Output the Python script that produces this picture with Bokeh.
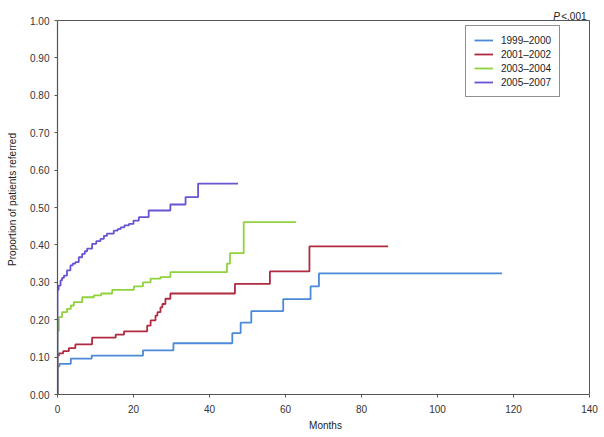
from bokeh.plotting import figure
from bokeh.models import Range1d, FixedTicker, PrintfTickFormatter, Legend, LegendItem
from bokeh.core.properties import value
from bokeh.embed import file_html
from bokeh.resources import INLINE

# ---- data ----
blue_t = [0, 0, 0.5, 3.5, 9, 22.5, 30.5, 46, 48.2, 51, 59.4, 66.6, 68.8, 117]
blue_v = [0, 0.075, 0.082, 0.096, 0.104, 0.118, 0.137, 0.164, 0.192, 0.223, 0.255, 0.289, 0.324, 0.324]

red_t = [0, 0, 0.4, 1.5, 3, 4.7, 9.1, 15.3, 17.5, 23.6, 24.5, 25.8, 26.3, 27.1, 27.6, 28.4, 29.7, 46.7, 55.9, 66.3, 87]
red_v = [0, 0.104, 0.11, 0.116, 0.124, 0.134, 0.152, 0.16, 0.169, 0.184, 0.198, 0.211, 0.22, 0.233, 0.242, 0.256, 0.27, 0.296, 0.329, 0.396, 0.396]

green_t = [0, 0, 0.35, 1.2, 2.5, 3.5, 4.3, 6.5, 9.6, 11.5, 14.4, 20.1, 22.5, 24.5, 27.1, 29.7, 44.6, 45.4, 49, 62.8]
green_v = [0, 0.17, 0.207, 0.22, 0.229, 0.238, 0.247, 0.26, 0.265, 0.27, 0.28, 0.289, 0.30, 0.31, 0.314, 0.327, 0.35, 0.378, 0.461, 0.461]

purple_t = [0, 0, 0.3, 0.8, 1.2, 1.7, 2.5, 3.4, 4.0, 4.7, 5.6, 6.5, 7.2, 7.8, 9.1, 10.2, 11.3, 12.2, 13, 14.8, 15.8, 16.6, 17.6, 18.8, 20, 21.4, 24, 29.7, 33.7, 37.0, 47.5]
purple_v = [0, 0.28, 0.291, 0.305, 0.312, 0.318, 0.332, 0.345, 0.35, 0.354, 0.367, 0.376, 0.383, 0.39, 0.403, 0.41, 0.416, 0.424, 0.43, 0.438, 0.442, 0.447, 0.452, 0.456, 0.465, 0.474, 0.492, 0.508, 0.528, 0.564, 0.564]

series_names = ["1999\u20132000", "2001\u20132002", "2003\u20132004", "2005\u20132007"]
series_colors = ["#4a8ad8", "#b02a40", "#8fd23c", "#6a52d2"]

x_ticks = [0, 20, 40, 60, 80, 100, 120, 140]
y_ticks = [0.0, 0.1, 0.2, 0.3, 0.4, 0.5, 0.6, 0.7, 0.8, 0.9, 1.0]
x_max, y_max = 140, 1.0
p_text = "<.001"

FONT = "Liberation Sans"
PX_X = 3.8    # pixels per month
PX_Y = 374.0  # pixels per unit proportion

p = figure(width=600, height=435, output_backend="svg", toolbar_location=None,
           x_range=Range1d(0, x_max + 4 / PX_X), y_range=Range1d(0, y_max + 16 / PX_Y),
           min_border_left=57, min_border_right=7, min_border_top=4, min_border_bottom=41)
p.xgrid.visible = False
p.ygrid.visible = False
p.outline_line_color = None
p.background_fill_color = "white"
p.border_fill_color = "white"

for ax in (p.xaxis[0], p.yaxis[0]):
    ax.axis_line_color = "#555555"
    ax.axis_line_width = 1.2
    ax.major_tick_line_color = "#555555"
    ax.major_tick_in = 0
    ax.major_tick_out = 3
    ax.minor_tick_line_color = None
    ax.major_label_text_font = FONT
    ax.major_label_text_font_size = "10px"
    ax.major_label_text_color = "#333333"
    ax.axis_label_text_font = FONT
    ax.axis_label_text_font_size = "10px"
    ax.axis_label_text_font_style = "normal"
    ax.axis_label_text_color = "#222222"

p.xaxis.bounds = (0, x_max)
p.yaxis.bounds = (0, y_max)
p.xaxis.ticker = FixedTicker(ticks=x_ticks)
p.yaxis.ticker = FixedTicker(ticks=y_ticks)
p.yaxis.formatter = PrintfTickFormatter(format="%.2f")
p.xaxis.axis_label = "Months"
p.yaxis.axis_label = "Proportion of patients referred"
p.xaxis.major_label_standoff = 7
p.xaxis.axis_label_standoff = 4
p.yaxis.major_label_standoff = 5
p.yaxis.axis_label_standoff = 9

# top and right border of the plotting box
p.line([0, x_max, x_max], [y_max, y_max, 0], line_color="#555555", line_width=1)

data = [(blue_t, blue_v), (red_t, red_v), (green_t, green_v), (purple_t, purple_v)]
items = []
for (t, v), name, col in zip(data, series_names, series_colors):
    r = p.step(t, v, mode="after", line_color=col, line_width=1.8)
    items.append(LegendItem(label=name, renderers=[r]))

legend = Legend(items=items, location=(408, 297))
legend.border_line_color = "#222222"
legend.border_line_width = 1
legend.background_fill_color = "white"
legend.background_fill_alpha = 1
legend.label_text_font = FONT
legend.label_text_font_size = "10px"
legend.label_text_color = "#222222"
legend.label_height = 12
legend.glyph_height = 12
legend.glyph_width = 19
legend.label_standoff = 8
legend.spacing = 2
legend.padding = 8
legend.margin = 0
p.add_layout(legend)

# "P<.001" above the top-right corner of the box
p.text(x=[x_max - 3 / PX_X], y=[y_max + 4 / PX_Y], text=[p_text],
       text_align="right", text_baseline="alphabetic",
       text_font=value(FONT), text_font_size="10px", text_color="#222222")
p.text(x=[x_max - 29.5 / PX_X], y=[y_max + 4 / PX_Y], text=["P"],
       text_align="right", text_baseline="alphabetic", text_font_style="italic",
       text_font=value(FONT), text_font_size="10px", text_color="#222222")

open("out.html", "w").write(file_html(p, INLINE))
